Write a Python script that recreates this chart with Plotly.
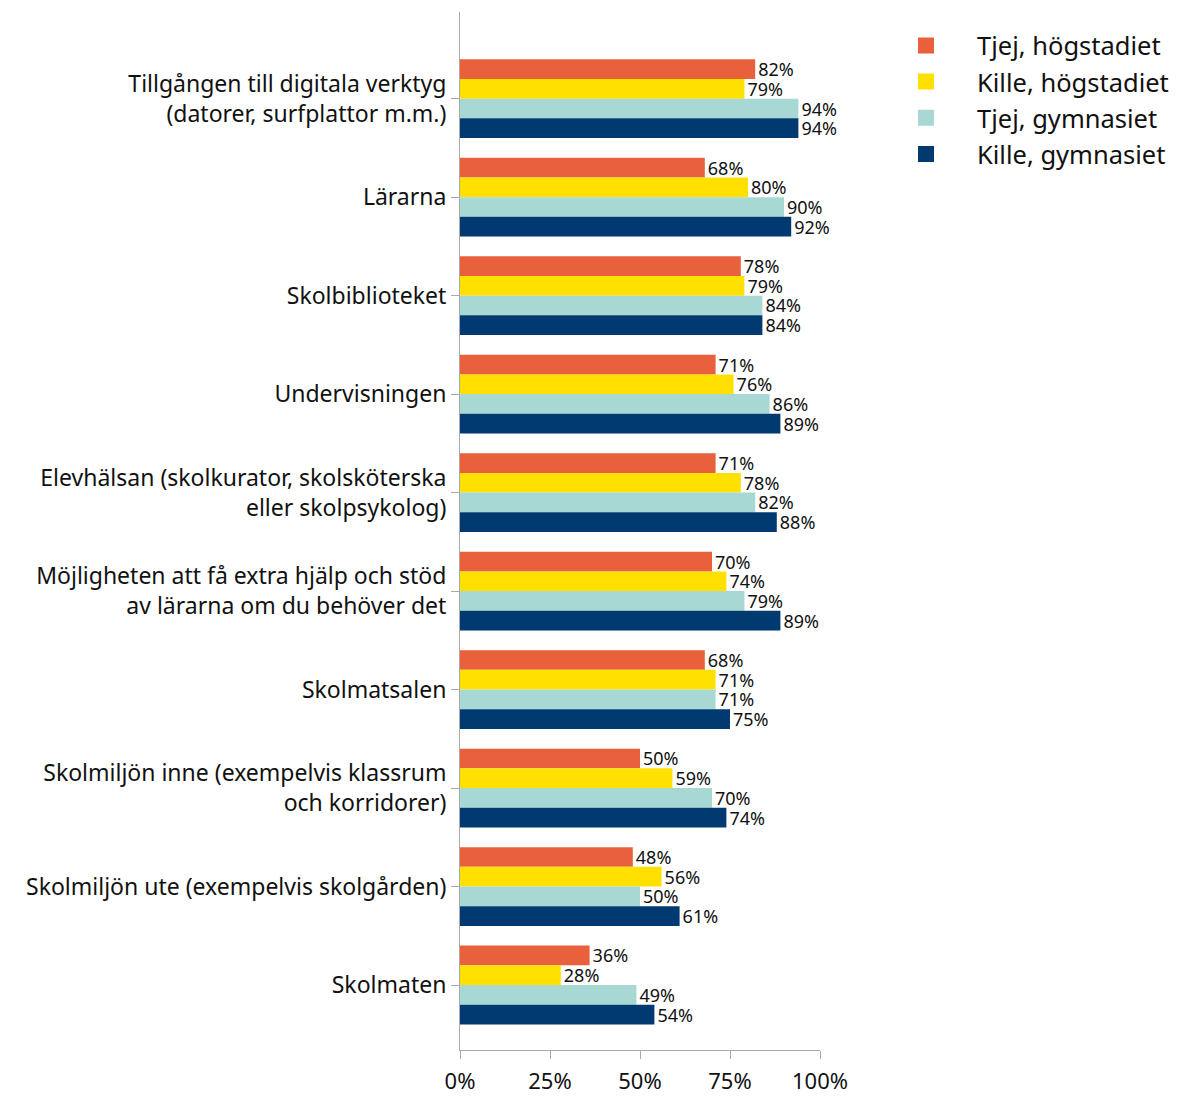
import plotly.graph_objects as go

categories = [
    "Tillgången till digitala verktyg<br>(datorer, surfplattor m.m.)",
    "Lärarna",
    "Skolbiblioteket",
    "Undervisningen",
    "Elevhälsan (skolkurator, skolsköterska<br>eller skolpsykolog)",
    "Möjligheten att få extra hjälp och stöd<br>av lärarna om du behöver det",
    "Skolmatsalen",
    "Skolmiljön inne (exempelvis klassrum<br>och korridorer)",
    "Skolmiljön ute (exempelvis skolgården)",
    "Skolmaten",
]
tjej_hog = [82, 68, 78, 71, 71, 70, 68, 50, 48, 36]
kille_hog = [79, 80, 79, 76, 78, 74, 71, 59, 56, 28]
tjej_gym = [94, 90, 84, 86, 82, 79, 71, 70, 50, 49]
kille_gym = [94, 92, 84, 89, 88, 89, 75, 74, 61, 54]
x_ticks = [0, 25, 50, 75, 100]
x_ticktext = ["0%", "25%", "50%", "75%", "100%"]

series = [
    ("Tjej, högstadiet", tjej_hog, "#E8603C"),
    ("Kille, högstadiet", kille_hog, "#FFE000"),
    ("Tjej, gymnasiet", tjej_gym, "#A8D8D3"),
    ("Kille, gymnasiet", kille_gym, "#003A70"),
]

fig = go.Figure()
for name, vals, color in series:
    fig.add_trace(go.Bar(
        y=categories,
        x=vals,
        name=name,
        orientation='h',
        marker=dict(color=color, line=dict(width=0)),
        text=[f"{v}%" for v in vals],
        texttemplate='%{text}',
        textposition='outside',
        constraintext='none',
        textfont=dict(size=18, color='#111'),
        cliponaxis=False,
        showlegend=False,
    ))

# legend entries with bigger square swatches
for name, vals, color in series:
    fig.add_trace(go.Scatter(
        x=[None], y=[None],
        mode='markers',
        name=name,
        marker=dict(color=color, symbol='square', size=17),
    ))

# page body adds an 8px offset, so the figure is a bit smaller than the window
fig.update_layout(
    width=1163, height=1090,
    barmode='group',
    bargap=0.2,
    bargroupgap=0,
    plot_bgcolor='white',
    paper_bgcolor='white',
    font=dict(family='Noto Sans', color='#111'),
    margin=dict(l=452, r=351, t=4, b=48, autoexpand=False),
    legend=dict(
        x=1.1528, y=0.99, xanchor='left', yanchor='top',
        font=dict(size=25.5),
        itemwidth=92,
        itemsizing='trace',
        tracegroupgap=0,
    ),
    xaxis=dict(
        range=[0, 100],
        tickvals=x_ticks,
        ticktext=x_ticktext,
        showgrid=False,
        zeroline=False,
        showline=True,
        linecolor='#aaa',
        ticks='outside',
        ticklen=8,
        tickcolor='#aaa',
        tickfont=dict(size=22),
        ticklabelstandoff=4,
        automargin=False,
    ),
    yaxis=dict(
        categoryorder='array',
        categoryarray=categories,
        range=[9.66, -0.88],
        showgrid=False,
        showline=True,
        linecolor='#aaa',
        ticks='outside',
        ticklen=8,
        tickcolor='#aaa',
        tickfont=dict(size=23),
        automargin=False,
    ),
)

fig.write_html("out.html")
